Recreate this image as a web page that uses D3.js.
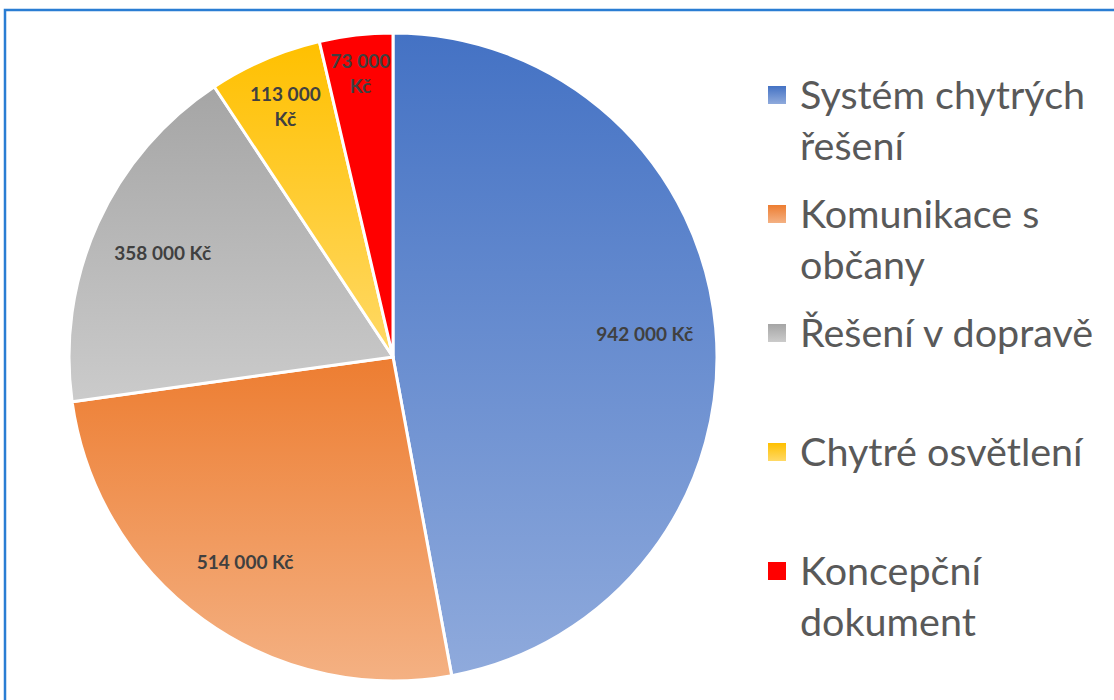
<!DOCTYPE html>
<html>
<head>
<meta charset="utf-8">
<script src="https://cdn.jsdelivr.net/npm/d3@7"></script>
<style>
  html, body { margin: 0; padding: 0; background: #fff; }
  svg { display: block; }
</style>
</head>
<body>
<svg id="chart" width="1114" height="700"></svg>
<script>
const categories = ["Systém chytrých řešení", "Komunikace s občany", "Řešení v dopravě", "Chytré osvětlení", "Koncepční dokument"];
const values = [942000, 514000, 358000, 113000, 73000];
const colorsTop = ["#4472C4", "#ED7D31", "#A5A5A5", "#FFC000", "#FF0000"];
const colorsBottom = ["#8FAADC", "#F4B183", "#CBCBCB", "#FFD966", "#FF0000"];

const fmt = v => d3.format(",")(v).replace(/,/g, " ") + " Kč";

const W = 1114, H = 700;
const svg = d3.select("#chart");
const defs = svg.append("defs");

// frame border
svg.append("rect")
  .attr("x", 5).attr("y", 10)
  .attr("width", W + 50).attr("height", H + 50)
  .attr("fill", "#fff")
  .attr("stroke", "#2A7DD3").attr("stroke-width", 2.5);

categories.forEach((c, i) => {
  const g = defs.append("linearGradient")
    .attr("id", "grad" + i)
    .attr("x1", 0).attr("y1", 0).attr("x2", 0).attr("y2", 1);
  g.append("stop").attr("offset", "0%").attr("stop-color", colorsTop[i]);
  g.append("stop").attr("offset", "100%").attr("stop-color", colorsBottom[i]);
});

const cx = 393, cy = 357, R = 324;
const data = categories.map((c, i) => ({ name: c, value: values[i], i }));

const pie = d3.pie().value(d => d.value).sort(null);
const arcs = pie(data);
const arc = d3.arc().innerRadius(0).outerRadius(R);

const gPie = svg.append("g").attr("transform", `translate(${cx},${cy})`);
gPie.selectAll("path.slice")
  .data(arcs)
  .join("path")
  .attr("class", "slice")
  .attr("d", arc)
  .attr("fill", d => `url(#grad${d.data.i})`)
  .attr("stroke", "#fff")
  .attr("stroke-width", 3)
  .attr("stroke-linejoin", "round");

// data labels
const labelFont = "Lato, 'Open Sans', sans-serif";
gPie.selectAll("text.lbl")
  .data(arcs)
  .join("text")
  .attr("class", "lbl")
  .each(function(d) {
    const span = d.endAngle - d.startAngle;
    const k = span < 0.25 ? 0.88 : (span < 0.4 ? 0.84 : 0.78);
    const la = d3.arc().innerRadius(R * k).outerRadius(R * k);
    const [x, y] = la.centroid(d);
    const txt = fmt(d.data.value);
    let lines = [txt];
    if (span < 0.4) {
      const p = txt.lastIndexOf(" ");
      lines = [txt.slice(0, p), txt.slice(p + 1)];
    }
    const t = d3.select(this)
      .attr("text-anchor", "middle")
      .attr("font-family", labelFont)
      .attr("font-weight", "bold")
      .attr("font-size", 19)
      .attr("fill", "#404040");
    const lh = 25;
    lines.forEach((ln, j) => {
      t.append("tspan")
        .attr("x", x)
        .attr("y", y + (j - (lines.length - 1) / 2) * lh)
        .attr("dy", "0.35em")
        .text(ln);
    });
  });

// legend
const legFont = "Lato, 'Open Sans', sans-serif";
const legFontSize = 39.5;
const legX = 768, legTextX = 800, legY0 = 95, legStep = 119, lineH = 51, sq = 18;
const maxW = 305;
const leg = svg.append("g");
const measure = leg.append("text").attr("font-family", legFont).attr("font-size", legFontSize);

function wrap(str) {
  const words = str.split(" ");
  const lines = [];
  let cur = "";
  words.forEach(w => {
    const test = cur ? cur + " " + w : w;
    measure.text(test);
    if (measure.node().getComputedTextLength() > maxW && cur) {
      lines.push(cur); cur = w;
    } else cur = test;
  });
  if (cur) lines.push(cur);
  return lines;
}

categories.forEach((c, i) => {
  const y = legY0 + i * legStep;
  leg.append("rect")
    .attr("x", legX).attr("y", y - sq / 2)
    .attr("width", sq).attr("height", sq)
    .attr("fill", `url(#grad${i})`);
  const t = leg.append("text")
    .attr("font-family", legFont)
    .attr("font-size", legFontSize)
    .attr("fill", "#595959");
  wrap(c).forEach((ln, j) => {
    t.append("tspan")
      .attr("x", legTextX)
      .attr("y", y + j * lineH)
      .attr("dy", "0.36em")
      .text(ln);
  });
});
measure.remove();
</script>
</body>
</html>
